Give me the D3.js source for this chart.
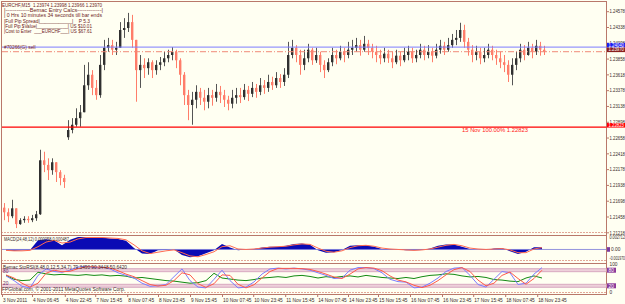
<!DOCTYPE html>
<html>
<head>
<meta charset="utf-8">
<script src="https://cdn.jsdelivr.net/npm/d3@7"></script>
<style>
  html, body { margin: 0; padding: 0; background: #fffff2; }
  svg { display: block; font-family: "Liberation Sans", Arial, sans-serif; }
</style>
</head>
<body>
<svg id="chart"></svg>
<script>
// EURCHF M15, drawn as 2-hour candles
const closes = [
  1.2153, 1.2147, 1.2159, 1.2135, 1.2141, 1.2143, 1.2141, 1.2144, 1.2150, 1.2232,
  1.2225, 1.2217, 1.2229, 1.2214, 1.2205, 1.2199, 1.2278, 1.2286, 1.2296, 1.2305,
  1.2346, 1.2362, 1.2342, 1.2331, 1.2377, 1.2403, 1.2407, 1.2400, 1.2403, 1.2430,
  1.2433, 1.2442, 1.2415, 1.2369, 1.2377, 1.2372, 1.2381, 1.2369, 1.2377, 1.2381,
  1.2387, 1.2392, 1.2397, 1.2384, 1.2362, 1.2331, 1.2316, 1.2324, 1.2336, 1.2327,
  1.2321, 1.2331, 1.2327, 1.2336, 1.2331, 1.2324, 1.2318, 1.2327, 1.2331, 1.2328,
  1.2339, 1.2333, 1.2342, 1.2336, 1.2346, 1.2342, 1.2351, 1.2346, 1.2357, 1.2351,
  1.2362, 1.2392, 1.2403, 1.2392, 1.2377, 1.2387, 1.2400, 1.2384, 1.2392, 1.2377,
  1.2369, 1.2381, 1.2392, 1.2387, 1.2397, 1.2392, 1.2400, 1.2403, 1.2407, 1.2400,
  1.2409, 1.2403, 1.2397, 1.2392, 1.2387, 1.2394, 1.2387, 1.2381, 1.2391, 1.2384,
  1.2392, 1.2397, 1.2387, 1.2392, 1.2400, 1.2392, 1.2397, 1.2391, 1.2400, 1.2406,
  1.2400, 1.2407, 1.2415, 1.2418, 1.2430, 1.2412, 1.2400, 1.2392, 1.2397, 1.2387,
  1.2392, 1.2400, 1.2392, 1.2387, 1.2381, 1.2377, 1.2362, 1.2377, 1.2387, 1.2400,
  1.2392, 1.2403, 1.2397, 1.2406, 1.2400, 1.2397
];
const highs = [
  1.2167, 1.2159, 1.2172, 1.2156, 1.2144, 1.2147, 1.2147, 1.2149, 1.2155, 1.2248,
  1.2245, 1.2235, 1.2235, 1.2228, 1.2217, 1.2210, 1.2293, 1.2296, 1.2311, 1.2316,
  1.2377, 1.2381, 1.2369, 1.2354, 1.2392, 1.2415, 1.2418, 1.2415, 1.2412, 1.2442,
  1.2448, 1.2456, 1.2453, 1.2415, 1.2392, 1.2387, 1.2387, 1.2384, 1.2384, 1.2389,
  1.2397, 1.2400, 1.2404, 1.2400, 1.2387, 1.2366, 1.2339, 1.2336, 1.2346, 1.2342,
  1.2339, 1.2342, 1.2339, 1.2348, 1.2345, 1.2339, 1.2330, 1.2339, 1.2342, 1.2342,
  1.2348, 1.2345, 1.2351, 1.2348, 1.2357, 1.2354, 1.2362, 1.2359, 1.2366, 1.2363,
  1.2372, 1.2412, 1.2415, 1.2407, 1.2400, 1.2400, 1.2409, 1.2403, 1.2403, 1.2397,
  1.2384, 1.2387, 1.2403, 1.2400, 1.2406, 1.2403, 1.2412, 1.2415, 1.2418, 1.2415,
  1.2421, 1.2415, 1.2409, 1.2406, 1.2400, 1.2403, 1.2400, 1.2397, 1.2400, 1.2397,
  1.2403, 1.2406, 1.2403, 1.2400, 1.2409, 1.2406, 1.2407, 1.2403, 1.2409, 1.2415,
  1.2412, 1.2418, 1.2424, 1.2430, 1.2441, 1.2438, 1.2418, 1.2407, 1.2406, 1.2403,
  1.2403, 1.2409, 1.2406, 1.2400, 1.2397, 1.2392, 1.2384, 1.2387, 1.2397, 1.2409,
  1.2407, 1.2412, 1.2409, 1.2415, 1.2412, 1.2406
];
const lows = [
  1.2141, 1.2138, 1.2144, 1.2129, 1.2134, 1.2137, 1.2137, 1.2138, 1.2140, 1.2149,
  1.2214, 1.2202, 1.2210, 1.2199, 1.2194, 1.2190, 1.2263, 1.2273, 1.2283, 1.2283,
  1.2305, 1.2339, 1.2331, 1.2324, 1.2327, 1.2369, 1.2397, 1.2392, 1.2392, 1.2403,
  1.2418, 1.2427, 1.2403, 1.2321, 1.2342, 1.2357, 1.2362, 1.2357, 1.2362, 1.2369,
  1.2375, 1.2381, 1.2384, 1.2372, 1.2346, 1.2316, 1.2293, 1.2286, 1.2311, 1.2316,
  1.2308, 1.2311, 1.2315, 1.2321, 1.2319, 1.2313, 1.2308, 1.2311, 1.2318, 1.2319,
  1.2324, 1.2322, 1.2328, 1.2327, 1.2331, 1.2333, 1.2336, 1.2339, 1.2342, 1.2342,
  1.2345, 1.2357, 1.2387, 1.2381, 1.2362, 1.2369, 1.2381, 1.2377, 1.2380, 1.2366,
  1.2357, 1.2366, 1.2375, 1.2378, 1.2384, 1.2381, 1.2387, 1.2392, 1.2397, 1.2391,
  1.2397, 1.2392, 1.2387, 1.2381, 1.2378, 1.2381, 1.2380, 1.2372, 1.2378, 1.2375,
  1.2381, 1.2384, 1.2380, 1.2381, 1.2387, 1.2384, 1.2387, 1.2381, 1.2387, 1.2394,
  1.2392, 1.2397, 1.2403, 1.2407, 1.2412, 1.2403, 1.2391, 1.2381, 1.2384, 1.2378,
  1.2381, 1.2387, 1.2384, 1.2377, 1.2372, 1.2366, 1.2351, 1.2346, 1.2369, 1.2381,
  1.2384, 1.2391, 1.2387, 1.2392, 1.2391, 1.2392
];
// opens after a session break (otherwise open = previous close)
const sessionOpens = [[0, 1.2160], [16, 1.2267]];

// indicators sampled every second candle
const macdMain = [
  -0.0002, -0.0003, -0.0002, -0.0001, 0.0020, 0.0022, 0.0020, 0.0009, 0.0021, 0.0027,
  0.0027, 0.0025, 0.0026, 0.0024, 0.0023, 0.0019, 0.0003, -0.0009, -0.0010, -0.0002,
  -0.0001, 0.0000, -0.0012, -0.0017, -0.0015, -0.0008, -0.0002, 0.0012, 0.0004, -0.0002,
  0.0000, 0.0001, 0.0004, 0.0006, 0.0006, 0.0008, 0.0012, 0.0013, 0.0010, -0.0002,
  -0.0007, -0.0006, -0.0001, 0.0008, 0.0009, 0.0009, 0.0006, 0.0001, 0.0001, 0.0000,
  -0.0002, -0.0002, -0.0001, 0.0002, 0.0008, 0.0011, 0.0011, 0.0006, 0.0001, 0.0000,
  -0.0001, 0.0002, 0.0003, -0.0004, -0.0010, -0.0005, 0.0005, 0.0005
];
const macdSignal = [
  -0.0002, -0.0003, -0.0003, -0.0002, 0.0006, 0.0016, 0.0020, 0.0014, 0.0016, 0.0023,
  0.0026, 0.0026, 0.0026, 0.0025, 0.0024, 0.0021, 0.0010, -0.0003, -0.0009, -0.0006,
  -0.0003, -0.0001, -0.0007, -0.0014, -0.0016, -0.0011, -0.0005, 0.0006, 0.0008, 0.0001,
  0.0000, 0.0001, 0.0003, 0.0005, 0.0006, 0.0007, 0.0010, 0.0012, 0.0011, 0.0003,
  -0.0004, -0.0006, -0.0003, 0.0004, 0.0008, 0.0009, 0.0007, 0.0003, 0.0001, 0.0000,
  -0.0001, -0.0002, -0.0001, 0.0001, 0.0005, 0.0009, 0.0011, 0.0008, 0.0003, 0.0001,
  0.0000, 0.0001, 0.0002, -0.0001, -0.0007, -0.0007, 0.0001, 0.0004
];
const stochMain = [
  58, 40, 18, 12, 60, 85, 75, 72, 80, 92,
  95, 90, 92, 85, 70, 60, 50, 30, 18, 20,
  25, 55, 85, 40, 15, 12, 45, 80, 40, 12,
  15, 35, 65, 85, 88, 85, 88, 85, 80, 70,
  60, 48, 50, 80, 90, 90, 86, 70, 45, 36,
  34, 12, 15, 30, 50, 75, 88, 90, 60, 25,
  15, 45, 75, 70, 25, 30, 65, 90
];
const stochSignal = [
  62, 50, 30, 15, 30, 68, 80, 74, 76, 86,
  93, 93, 91, 89, 78, 65, 55, 40, 25, 19,
  22, 40, 70, 62, 28, 14, 28, 62, 60, 26,
  12, 24, 50, 75, 87, 87, 87, 86, 83, 75,
  65, 54, 48, 65, 85, 90, 88, 78, 58, 42,
  35, 22, 13, 22, 40, 62, 82, 90, 75, 42,
  20, 30, 60, 73, 48, 26, 48, 80
];
const rsiLine = [
  60, 45, 40, 42, 72, 66, 62, 64, 62, 60,
  63, 60, 62, 58, 60, 57, 50, 52, 48, 44,
  40, 38, 34, 30, 32, 40, 68, 50, 46, 42,
  40, 44, 50, 52, 55, 52, 58, 60, 56, 50,
  55, 52, 56, 58, 54, 60, 56, 52, 50, 48,
  52, 48, 55, 60, 62, 66, 64, 58, 54, 56,
  52, 44, 42, 38, 36, 50, 58, 50
];
const stochLevels = [80, 20];

const priceTicks = [
  1.24578, 1.24338, 1.24098, 1.23858, 1.23618, 1.23378, 1.23138, 1.22898,
  1.22658, 1.22418, 1.22178, 1.21938, 1.21698, 1.21458, 1.21218
];
const timeLabels = [
  "3 Nov 2011", "4 Nov 06:45", "4 Nov 22:45", "7 Nov 15:45", "8 Nov 07:45", "8 Nov 23:45",
  "9 Nov 15:45", "10 Nov 07:45", "10 Nov 23:45", "11 Nov 15:45", "14 Nov 07:45", "14 Nov 23:45",
  "15 Nov 15:45", "16 Nov 07:45", "16 Nov 23:45", "17 Nov 15:45", "18 Nov 07:45", "18 Nov 23:45"
];
const timeTickBars = [0, 7.5, 15.7, 23.3, 31.3, 39, 47, 55, 62.8, 70.8, 78.8, 86.5, 94, 102, 110, 117.8, 125.8, 133.8];

const bidPrice = 1.23970;
const orderPrice = 1.24040;
const fibPrice = 1.22823;
const macdLabel = "MACD(24,48,12) 0.000058 0.000487";
const stochLabel = "Bemac StoRSI(8,48,0,12,5,34,7) 79.3490 90.3448 50.6420";
const headerLines = [
  "EURCHF,M15  1.23974 1.23998 1.23966 1.23970",
  "|-------------Bemac Entry Calcs-------------|",
  "| 0 Hrs 10 minutes 34 seconds till bar ends",
  "|Full Pip Spread|____________|    P 5.3",
  "|Full Pip $Value|____________| US $10.01",
  "|Cost to Enter  ___EURCHF___| US $67.61"
];

// ── Layout ──
const width = 625;
const height = 304;
const plotLeft = 2;
const axisX = 606.5;
const mainPane = { top: 11.7, bottom: 232.8 };
const border = "#b9786a";
const font = 4.8;

const svg = d3.select("#chart").attr("width", width).attr("height", height);
svg.append("rect").attr("width", width).attr("height", height).attr("fill", "#fffff2");

const defs = svg.append("defs");
defs.append("clipPath").attr("id", "clip-main")
  .append("rect").attr("x", plotLeft).attr("y", 2).attr("width", axisX - plotLeft).attr("height", 230);
defs.append("clipPath").attr("id", "clip-macd")
  .append("rect").attr("x", plotLeft).attr("y", 236).attr("width", axisX - plotLeft).attr("height", 24);

const n = closes.length;
const x = d3.scaleLinear().domain([0, n]).range([plotLeft, plotLeft + n * 4]);
const y = d3.scaleLinear()
  .domain([priceTicks[priceTicks.length - 1], priceTicks[0]])
  .range([mainPane.bottom, mainPane.top]);
const yMacd = d3.scaleLinear().domain([-0.00197, 0.002712]).range([258.5, 237]);
const yStoch = d3.scaleLinear().domain([0, 100]).range([291, 265]);
const xInd = (k) => x(2 * k + 1);

// ── Pane frames ──
const frame = svg.append("g").attr("fill", "none");
[[1.5, border, null], [232.5, "#e2a898", "2,1"], [235.5, border, null],
 [260.5, "#e2a898", "2,1"], [263.5, border, null], [292.5, "#e2a898", "2,1"], [294.5, border, null]]
  .forEach(([yy, col, dash]) => {
    frame.append("line")
      .attr("x1", 1).attr("x2", axisX).attr("y1", yy).attr("y2", yy)
      .attr("stroke", col).attr("stroke-dasharray", dash);
  });
frame.append("line").attr("x1", 1.5).attr("x2", 1.5).attr("y1", 1).attr("y2", 295).attr("stroke", border);
frame.append("line").attr("x1", axisX).attr("x2", axisX).attr("y1", 1).attr("y2", 295).attr("stroke", border);

// ── Candles ──
const opensAt = new Map(sessionOpens);
const candles = closes.map((c, i) => {
  const o = opensAt.has(i) ? opensAt.get(i) : closes[i - 1];
  return { i, o, c, h: Math.max(highs[i], o, c), l: Math.min(lows[i], o, c) };
});
const upCol = "#303030";
const downCol = "#ff7d6a";

const candleG = svg.append("g").attr("clip-path", "url(#clip-main)");
candleG.selectAll(".wick")
  .data(candles)
  .join("rect")
  .attr("class", "wick")
  .attr("x", (d) => x(d.i) + 2)
  .attr("width", 1)
  .attr("y", (d) => y(d.h))
  .attr("height", (d) => Math.max(1, y(d.l) - y(d.h)))
  .attr("fill", (d) => (d.c >= d.o ? "#555" : downCol));
candleG.selectAll(".body")
  .data(candles)
  .join("rect")
  .attr("class", "body")
  .attr("x", (d) => x(d.i) + 1)
  .attr("width", 2.4)
  .attr("y", (d) => y(Math.max(d.o, d.c)))
  .attr("height", (d) => Math.max(1, Math.abs(y(d.o) - y(d.c))))
  .attr("fill", (d) => (d.c >= d.o ? upCol : downCol));

// ── Order / price / fib lines ──
svg.append("line")
  .attr("x1", plotLeft).attr("x2", axisX).attr("y1", y(orderPrice)).attr("y2", y(orderPrice))
  .attr("stroke", "#7c7cff").attr("stroke-width", 1);
svg.append("line")
  .attr("x1", plotLeft).attr("x2", axisX).attr("y1", y(bidPrice)).attr("y2", y(bidPrice))
  .attr("stroke", "#f08a78").attr("stroke-dasharray", "6,2,1,2");
svg.append("line")
  .attr("x1", plotLeft).attr("x2", axisX).attr("y1", y(fibPrice)).attr("y2", y(fibPrice))
  .attr("stroke", "#ff0000").attr("stroke-width", 1.3);
svg.append("text")
  .attr("x", 462).attr("y", y(fibPrice) + 5)
  .attr("font-size", font).attr("fill", "#ff2020")
  .attr("textLength", 66).attr("lengthAdjust", "spacingAndGlyphs")
  .text(`15 Nov 100.00%  ${fibPrice.toFixed(5)}`);
svg.append("text")
  .attr("x", 4).attr("y", y(orderPrice) + 1.6)
  .attr("font-size", font).attr("fill", "#7a1c1c")
  .text("#70266(G) sell");

// ── Header comment block ──
const headerFit = [100, 99, 98, 86, 88, 88];
headerLines.forEach((line, i) => {
  svg.append("text")
    .attr("x", i === 0 ? 2 : 4)
    .attr("y", 6.8 + i * 5.3)
    .attr("font-size", font)
    .attr("fill", "#6e1d1d")
    .attr("textLength", headerFit[i])
    .attr("lengthAdjust", "spacingAndGlyphs")
    .style("white-space", "pre")
    .text(line);
});

// ── Price axis ──
const axisG = svg.append("g");
const axisText = (sel) => sel
  .attr("font-size", font)
  .attr("textLength", (d) => Math.min(15.5, d.length * 2.3))
  .attr("lengthAdjust", "spacingAndGlyphs");
priceTicks.forEach((p) => {
  axisG.append("line")
    .attr("x1", axisX).attr("x2", axisX + 2.5).attr("y1", y(p)).attr("y2", y(p))
    .attr("stroke", border);
  axisG.append("text")
    .datum(p.toFixed(5))
    .attr("x", axisX + 3).attr("y", y(p) + 1.7)
    .attr("fill", "#3a2a2a")
    .call(axisText)
    .text((d) => d);
});
const tag = (p, fill, label) => {
  axisG.append("rect")
    .attr("x", axisX + 0.5).attr("y", y(p) - 4.2).attr("width", 18).attr("height", 4.6)
    .attr("fill", fill);
  axisG.append("text")
    .datum(label)
    .attr("x", axisX + 2).attr("y", y(p) - 0.3)
    .attr("fill", "#ffffff")
    .call(axisText)
    .text((d) => d);
};
tag(orderPrice, "#1c1cf0", orderPrice.toFixed(5));
tag(bidPrice, "#8a1f1f", bidPrice.toFixed(5));
tag(fibPrice, "#ff0000", fibPrice.toFixed(5));

// ── MACD pane ──
const macdG = svg.append("g").attr("clip-path", "url(#clip-macd)");
macdG.append("path")
  .datum(macdMain)
  .attr("fill", "#0a0ab4")
  .attr("d", d3.area().x((d, k) => xInd(k)).y0(yMacd(0)).y1((d) => yMacd(d)));
macdG.append("line")
  .attr("x1", plotLeft).attr("x2", axisX).attr("y1", yMacd(0)).attr("y2", yMacd(0))
  .attr("stroke", "#7878d8").attr("stroke-width", 0.8);
macdG.append("path")
  .datum(macdSignal)
  .attr("fill", "none").attr("stroke", "#ff6a50").attr("stroke-width", 1)
  .attr("d", d3.line().x((d, k) => xInd(k)).y((d) => yMacd(d)));

svg.append("text")
  .attr("x", 4).attr("y", 241)
  .attr("font-size", font).attr("fill", "#3a2a2a")
  .attr("textLength", 65).attr("lengthAdjust", "spacingAndGlyphs")
  .text(macdLabel);
[[0.002712, "0.002712"], [-0.00197, "-0.001970"]].forEach(([v, s]) => {
  svg.append("text")
    .datum(s)
    .attr("x", axisX + 3).attr("y", yMacd(v) + 1.7)
    .attr("fill", "#3a2a2a")
    .call(axisText)
    .text((d) => d);
});
svg.append("rect")
  .attr("x", axisX + 0.5).attr("y", yMacd(0) - 2.3).attr("width", 3).attr("height", 4.6)
  .attr("fill", "#7a3aa0");
svg.append("text")
  .attr("x", axisX + 4.5).attr("y", yMacd(0) + 1.7)
  .attr("font-size", font).attr("fill", "#3a2a2a").text("0.00");

// ── StochRSI pane ──
const stochG = svg.append("g");
stochLevels.forEach((lv) => {
  stochG.append("rect")
    .attr("x", plotLeft).attr("width", axisX - plotLeft)
    .attr("y", yStoch(lv) - 1.5).attr("height", 3)
    .attr("fill", "#eed0da");
  [-1.5, 1.5].forEach((off) => {
    stochG.append("line")
      .attr("x1", plotLeft).attr("x2", axisX)
      .attr("y1", yStoch(lv) + off).attr("y2", yStoch(lv) + off)
      .attr("stroke", "#cf9ab8").attr("stroke-width", 0.8);
  });
});
const stochLine = d3.line().x((d, k) => xInd(k)).y((d) => yStoch(d));
stochG.append("path").datum(rsiLine)
  .attr("fill", "none").attr("stroke", "#138a13").attr("stroke-width", 1).attr("d", stochLine);
stochG.append("path").datum(stochMain)
  .attr("fill", "none").attr("stroke", "#7c7cff").attr("stroke-width", 1).attr("d", stochLine);
stochG.append("path").datum(stochSignal)
  .attr("fill", "none").attr("stroke", "#ff5a4a").attr("stroke-width", 1).attr("d", stochLine);

svg.append("text")
  .attr("x", 3).attr("y", 268.5)
  .attr("font-size", font).attr("fill", "#3a2a2a")
  .attr("textLength", 124).attr("lengthAdjust", "spacingAndGlyphs")
  .text(stochLabel);
stochLevels.forEach((lv) => {
  svg.append("text")
    .attr("x", 3).attr("y", yStoch(lv) + (lv > 50 ? 2.5 : -0.5))
    .attr("font-size", font).attr("fill", "#6a2a6a").text(String(lv));
  svg.append("rect")
    .attr("x", axisX + 0.5).attr("y", yStoch(lv) - 2.5).attr("width", 9).attr("height", 5)
    .attr("fill", "#8a3a9a");
  svg.append("text")
    .attr("x", axisX + 2).attr("y", yStoch(lv) + 1.7)
    .attr("font-size", font).attr("fill", "#ffffff").text(String(lv));
});
[[100, "100"], [0, "0"]].forEach(([v, s]) => {
  svg.append("text")
    .attr("x", axisX + 3).attr("y", yStoch(v) + (v ? 1.2 : 2.5))
    .attr("font-size", font).attr("fill", "#3a2a2a").text(s);
});
svg.append("text")
  .attr("x", 2).attr("y", 291.3)
  .attr("font-size", font).attr("fill", "#3a2a2a")
  .attr("textLength", 123).attr("lengthAdjust", "spacingAndGlyphs")
  .text("FPGlobal.com, © 2001-2011 MetaQuotes Software Corp.");

// ── Time axis ──
timeLabels.forEach((s, j) => {
  const tx = x(timeTickBars[j]);
  svg.append("line")
    .attr("x1", tx + 0.5).attr("x2", tx + 0.5).attr("y1", 294.5).attr("y2", 297)
    .attr("stroke", border);
  svg.append("text")
    .attr("x", tx + 1).attr("y", 302)
    .attr("font-size", font).attr("fill", "#3a2a2a")
    .text(s);
});
</script>
</body>
</html>
